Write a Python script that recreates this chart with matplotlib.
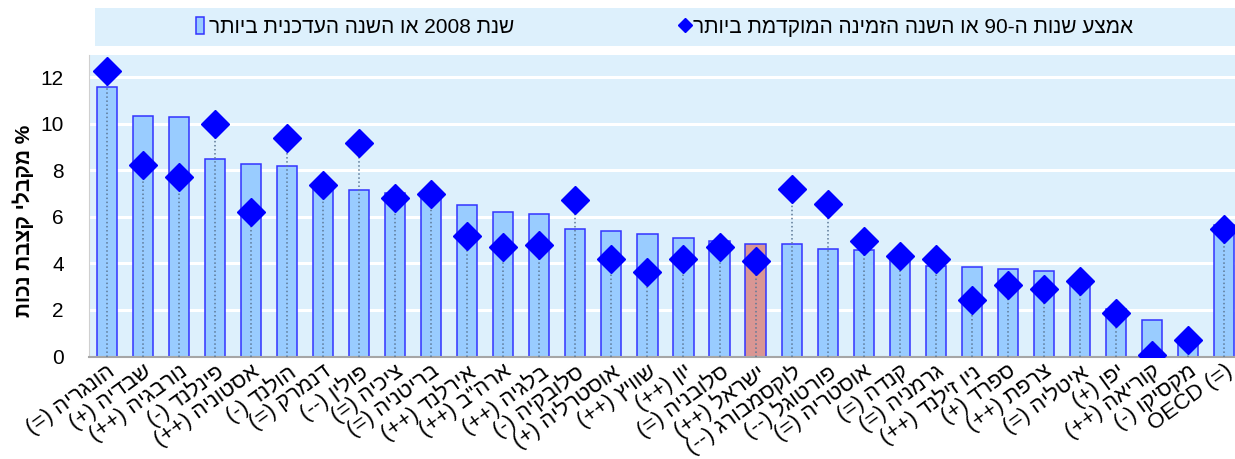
import re
import matplotlib
matplotlib.use('Agg')
import matplotlib.pyplot as plt

plt.rcParams['font.family'] = ['Liberation Sans', 'DejaVu Sans']

# מדינות (סדר לפי שנת 2008)
countries = ['הונגריה (=)', 'שבדיה (+)', 'נורבגיה (++)', 'פינלנד (-)', 'אסטוניה (++)',
             'הולנד (-)', 'דנמרק (=)', 'פולין (--)', 'ציכיה (=)', 'בריטניה (=)',
             'אירלנד (++)', 'ארה"ב (++)', 'בלגיה (++)', 'סלובקיה (-)', 'אוסטרליה (+)',
             'שוויץ (++)', 'יון (++)', 'סלובניה (=)', 'ישראל (++)', 'לוקסמבורג (--)',
             'פורטוגל (--)', 'אוסטריה (=)', 'קנדה (=)', 'גרמניה (=)', 'ניו זילנד (++)',
             'ספרד (+)', 'צרפת (++)', 'איטליה (=)', 'יפן (+)', 'קוריאה (++)',
             'מקסיקו (-)', 'OECD (=)']

val_2008 = [11.59, 10.34, 10.29, 8.49, 8.26, 8.17, 7.19, 7.16, 7.04, 6.98,
            6.51, 6.21, 6.14, 5.46, 5.40, 5.27, 5.10, 4.98, 4.84, 4.84,
            4.62, 4.59, 4.39, 3.87, 3.84, 3.75, 3.68, 3.22, 2.05, 1.55,
            0.61, 5.63]

val_90s = [12.25, 8.24, 7.69, 10.0, 6.19, 9.37, 7.37, 9.17, 6.80, 6.97,
           5.19, 4.69, 4.81, 6.71, 4.19, 3.65, 4.19, 4.69, 4.09, 7.21,
           6.53, 4.96, 4.30, 4.19, 2.41, 3.08, 2.92, 3.25, 1.85, 0.07,
           0.69, 5.49]

yticks = [0, 2, 4, 6, 8, 10, 12]

label_2008 = 'שנת 2008 או השנה העדכנית ביותר'
label_90s = 'אמצע שנות ה-90 או השנה הזמינה המוקדמת ביותר'
ylabel = '% מקבלי קצבת נכות'
highlight = 'ישראל (++)'


def rtl(s):
    # matplotlib לא מבצע bidi - הופכים ידנית לסדר חזותי
    if not re.search('[\u0590-\u05FF]', s):
        return s
    s = s[::-1].translate(str.maketrans('()', ')('))
    return re.sub(r'[0-9A-Za-z]+', lambda m: m.group(0)[::-1], s)


bg = '#DDF0FC'
fig = plt.figure(figsize=(12.35, 4.59), dpi=100)
ax = fig.add_axes([88.7 / 1235, 1 - 356.5 / 459, 1 - 88.7 / 1235, (356.5 - 55) / 459])
ax.set_facecolor(bg)

x = list(range(len(countries)))
colors = ['#D99694' if c == highlight else '#99CCFF' for c in countries]
bars = ax.bar(x, val_2008, width=0.56, color=colors, edgecolor='#3333FF', linewidth=1.1,
              label=rtl(label_2008), zorder=2)
ax.vlines(x, 0, val_90s, colors='#5C7896', linestyles=':', linewidth=1.1, zorder=3)
dots, = ax.plot(x, val_90s, 'D', color='#0000FF', markersize=14, linestyle='none',
                label=rtl(label_90s), zorder=4)

ax.set_xlim(-0.5, 31.3)
ax.set_ylim(0, 12.95)
ax.set_yticks(yticks)
ax.set_yticklabels([str(v) for v in yticks], fontsize=15)
ax.yaxis.grid(True, color='white', linewidth=2.2, zorder=1)
ax.set_axisbelow(True)
ax.tick_params(axis='y', length=0, pad=18)
ax.tick_params(axis='x', length=0, pad=3)
ax.set_xticks(x)
ax.set_xticklabels([rtl(c) for c in countries], rotation=36, ha='right',
                   rotation_mode='anchor', fontsize=16)

for side in ['top', 'right']:
    ax.spines[side].set_visible(False)
ax.spines['left'].set_color('#D0D0D0')
ax.spines['bottom'].set_color('#A6A6A6')
ax.spines['bottom'].set_linewidth(1.5)

ax.set_ylabel(rtl(ylabel), fontsize=15, fontweight='bold')
ax.yaxis.set_label_coords(-0.048, 0.45)

# מקרא
lax = fig.add_axes([95 / 1235, 1 - 46 / 459, 1 - 95 / 1235, 38 / 459])
lax.set_facecolor(bg)
lax.set_xticks([])
lax.set_yticks([])
for s in lax.spines.values():
    s.set_visible(False)
lax.legend([bars, dots], [rtl(label_2008), rtl(label_90s)], loc='center', ncol=2,
           frameon=False, fontsize=15, handlelength=0.35, handleheight=0.9,
           handletextpad=0.25, columnspacing=8.0, markerscale=0.5)

fig.savefig('out.png', dpi=100)
